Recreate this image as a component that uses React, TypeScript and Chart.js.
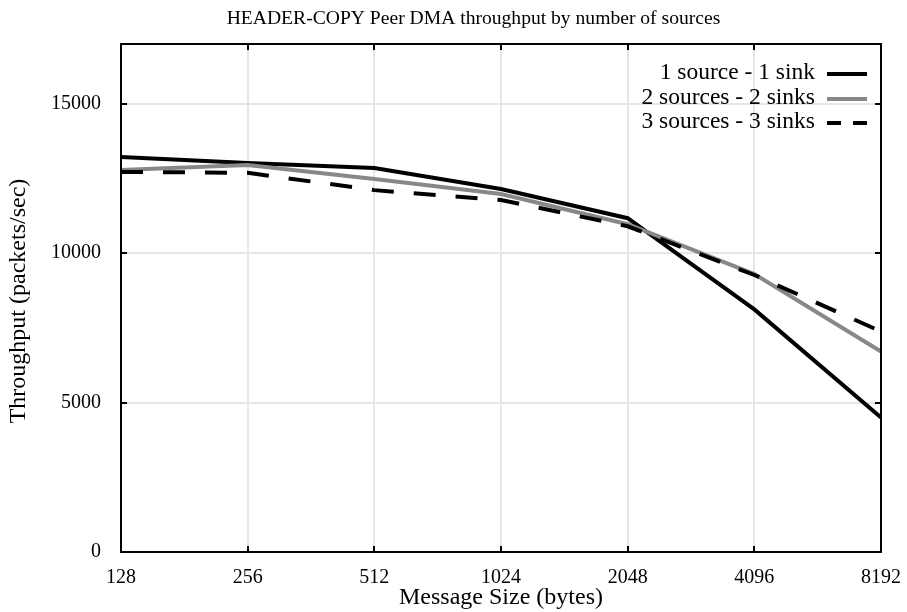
import React, { useEffect, useRef } from "react";
import { Chart, registerables } from "chart.js";

Chart.register(...registerables);

const titleText = "HEADER-COPY Peer DMA throughput by number of sources";
const xTitle = "Message Size (bytes)";
const yTitle = "Throughput (packets/sec)";
const categories = ["128", "256", "512", "1024", "2048", "4096", "8192"];
const seriesNames = ["1 source - 1 sink", "2 sources - 2 sinks", "3 sources - 3 sinks"];
const oneSink = [13220, 13020, 12850, 12150, 11170, 8120, 4500];
const twoSinks = [12780, 12950, 12480, 11980, 10970, 9300, 6710];
const threeSinks = [12720, 12690, 12110, 11780, 10900, 9270, 7380];
const yTickValues = [0, 5000, 10000, 15000];
const yMin = 0;
const yMax = 17000;

const FONT = "'Liberation Serif', 'Times New Roman', serif";
const FS = 20;

const colors = ["#000000", "#888888", "#000000"];
const dashes: number[][] = [[], [], [22, 20]];

const framePlugin = {
  id: "frame",
  afterDraw(chart: any) {
    const ctx = chart.ctx;
    const { left, right, top, bottom } = chart.chartArea;
    const xs = chart.scales.x;
    const ys = chart.scales.y;
    ctx.save();
    ctx.strokeStyle = "#000";
    ctx.lineWidth = 2;
    ctx.setLineDash([]);
    const tl = 6;
    ctx.beginPath();
    ys.ticks.forEach((t: any) => {
      const py = Math.round(ys.getPixelForValue(t.value));
      ctx.moveTo(left, py);
      ctx.lineTo(left + tl, py);
      ctx.moveTo(right, py);
      ctx.lineTo(right - tl, py);
    });
    categories.forEach((_c, i) => {
      const px = Math.round(xs.getPixelForValue(i));
      ctx.moveTo(px, bottom);
      ctx.lineTo(px, bottom - tl);
      ctx.moveTo(px, top);
      ctx.lineTo(px, top + tl);
    });
    ctx.stroke();
    ctx.strokeRect(left, top, right - left, bottom - top);

    ctx.fillStyle = "#000";
    ctx.textAlign = "center";
    ctx.textBaseline = "middle";
    ctx.font = `19.6px ${FONT}`;
    ctx.fillText(titleText, 473.5, 19);
    ctx.font = `24px ${FONT}`;
    ctx.fillText(xTitle, (left + right) / 2, 598);
    ctx.save();
    ctx.translate(19, 301);
    ctx.rotate(-Math.PI / 2);
    ctx.fillText(yTitle, 0, 0);
    ctx.restore();

    const rows = [73, 98, 122];
    ctx.textAlign = "right";
    ctx.font = `23.5px ${FONT}`;
    chart.data.datasets.forEach((ds: any, i: number) => {
      const y = rows[i];
      ctx.fillStyle = "#000";
      ctx.fillText(ds.label, 815, y);
      ctx.beginPath();
      ctx.strokeStyle = ds.borderColor;
      ctx.lineWidth = 4;
      ctx.setLineDash(i === 2 ? [14, 12] : []);
      ctx.moveTo(827, y + 1);
      ctx.lineTo(867, y + 1);
      ctx.stroke();
    });
    ctx.restore();
  },
};

export default function App() {
  const ref = useRef<HTMLCanvasElement>(null);
  useEffect(() => {
    if (!ref.current) return;
    const seriesData = [oneSink, twoSinks, threeSinks];
    const chart = new Chart(ref.current, {
      type: "line",
      data: {
        labels: categories,
        datasets: seriesData.map((d, i) => ({
          label: seriesNames[i],
          data: d,
          borderColor: colors[i],
          backgroundColor: colors[i],
          borderWidth: 4,
          borderDash: dashes[i],
          pointRadius: 0,
          tension: 0,
          fill: false,
          order: 2 - i,
        })),
      },
      options: {
        responsive: false,
        animation: false,
        events: [],
        layout: { padding: { top: 44, right: 26, left: 0, bottom: 0 } },
        plugins: {
          legend: { display: false },
          title: { display: false },
          tooltip: { enabled: false },
        },
        scales: {
          x: {
            type: "category",
            offset: false,
            grid: { color: "#e6e6e6", lineWidth: 2, drawTicks: false },
            border: { display: false },
            ticks: {
              color: "#000",
              font: { family: FONT, size: FS },
              padding: 14,
              maxRotation: 0,
              autoSkip: false,
            },
            afterFit: (s: any) => {
              s.height = 60;
              s.paddingLeft = 0;
              s.paddingRight = 0;
            },
          },
          y: {
            type: "linear",
            min: yMin,
            max: yMax,
            grid: { color: "#e6e6e6", lineWidth: 2, drawTicks: false },
            border: { display: false },
            ticks: {
              color: "#000",
              font: { family: FONT, size: FS },
              padding: 20,
              callback: (v: any) => String(v),
            },
            afterBuildTicks: (s: any) => {
              s.ticks = yTickValues.map((v) => ({ value: v }));
            },
            afterFit: (s: any) => {
              s.width = 121;
              s.paddingTop = 0;
              s.paddingBottom = 0;
            },
          },
        },
      },
      plugins: [framePlugin],
    });
    return () => chart.destroy();
  }, []);
  return (
    <div style={{ position: "absolute", left: 0, top: 0, width: 907, height: 612, background: "#fff" }}>
      <canvas ref={ref} width={907} height={612} style={{ display: "block" }} />
    </div>
  );
}
